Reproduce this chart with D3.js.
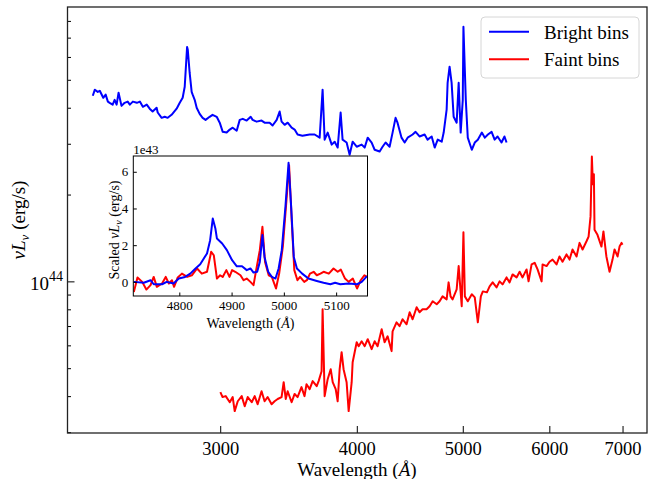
<!DOCTYPE html>
<html>
<head>
<meta charset="utf-8">
<script src="https://cdn.jsdelivr.net/npm/d3@7"></script>
<style>
  body { margin: 0; background: #fff; }
  svg { display: block; font-family: "Liberation Serif", "Times New Roman", serif; }
</style>
</head>
<body>
<svg id="chart" width="648" height="479"></svg>
<script>
// main panel: rest-frame wavelength (Angstrom) and nuL_nu in units of 1e44 erg/s
const brightWave = [2294,2304,2318,2328,2345,2357,2368,2377,2392,2402,
  2412,2422,2437,2453,2469,2480,2496,2517,2533,2549,
  2570,2586,2602,2624,2630,2652,2669,2686,2708,2737,
  2755,2772,2784,2798,2802,2813,2825,2831,2843,2855,
  2873,2891,2909,2934,2952,2978,2997,3016,3041,3061,
  3080,3106,3126,3146,3172,3199,3212,3239,3273,3294,
  3329,3350,3379,3400,3414,3436,3458,3487,3509,3531,
  3567,3622,3660,3699,3722,3738,3762,3794,3818,3842,
  3866,3882,3915,3940,3965,3999,4041,4067,4093,4127,
  4153,4197,4223,4250,4286,4313,4340,4358,4395,4424,
  4452,4499,4527,4565,4614,4643,4683,4713,4743,4783,
  4803,4833,4843,4863,4884,4905,4936,4957,4978,5000,
  5007,5032,5053,5096,5128,5161,5205,5238,5272,5313,
  5347,5380,5425,5459,5483];
const brightLum = [4.40,4.62,4.54,4.58,4.33,4.44,4.20,4.16,4.10,4.26,
  4.10,4.51,4.06,4.16,4.20,4.10,4.20,4.16,4.20,4.03,
  4.10,3.97,3.88,4.00,3.85,3.69,3.72,3.69,3.78,3.97,
  4.16,4.33,4.73,6.50,6.35,5.29,4.54,4.44,4.26,4.00,
  3.81,3.69,3.63,3.72,3.78,3.72,3.55,3.30,3.28,3.36,
  3.41,3.33,3.63,3.66,3.61,3.72,3.63,3.58,3.61,3.55,
  3.55,3.47,3.63,3.88,3.58,3.49,3.55,3.41,3.36,3.23,
  3.20,3.23,3.23,3.15,4.62,3.10,3.28,2.98,3.05,2.91,
  3.85,3.10,3.03,2.75,3.05,2.93,2.98,2.91,3.15,3.03,
  2.86,2.82,2.93,3.03,2.93,3.28,3.69,3.55,3.15,3.03,
  3.15,3.23,3.30,3.18,3.23,3.10,3.18,2.91,3.10,3.05,
  3.28,3.94,4.88,5.55,4.88,3.72,3.55,4.88,3.28,4.26,
  7.63,4.26,3.15,2.86,3.03,3.10,3.28,3.15,3.23,3.30,
  3.10,3.18,3.03,3.18,3.03];

const faintWave = [3001,3015,3035,3061,3080,3093,3113,3139,3159,3179,
  3206,3226,3246,3273,3294,3315,3343,3364,3386,3414,
  3429,3444,3458,3487,3509,3531,3560,3583,3598,3622,
  3645,3676,3691,3714,3722,3738,3762,3786,3802,3826,
  3842,3858,3874,3890,3915,3932,3957,3965,3982,3999,
  4016,4041,4067,4093,4127,4153,4179,4215,4241,4268,
  4304,4313,4349,4377,4405,4442,4471,4499,4537,4565,
  4594,4633,4663,4693,4733,4762,4792,4833,4853,4873,
  4894,4936,4957,4989,5007,5022,5053,5096,5128,5161,
  5194,5216,5261,5291,5325,5369,5403,5437,5483,5518,
  5553,5600,5636,5671,5719,5743,5780,5817,5853,5903,
  5915,5965,6003,6041,6092,6130,6169,6221,6261,6300,
  6354,6394,6435,6490,6517,6544,6562,6576,6590,6599,
  6640,6696,6724,6766,6811,6854,6883,6927,6956,6985,
  6999];
const faintLum = [0.413,0.397,0.400,0.381,0.397,0.355,0.384,0.400,0.369,0.397,
  0.381,0.400,0.375,0.416,0.384,0.397,0.375,0.384,0.391,0.397,
  0.447,0.391,0.416,0.381,0.407,0.397,0.430,0.400,0.440,0.423,
  0.451,0.433,0.451,0.488,0.800,0.400,0.458,0.496,0.447,0.423,
  0.384,0.496,0.568,0.496,0.447,0.355,0.447,0.524,0.568,0.615,
  0.596,0.620,0.596,0.630,0.582,0.620,0.596,0.682,0.615,0.645,
  0.573,0.671,0.721,0.699,0.739,0.710,0.781,0.739,0.813,0.781,
  0.800,0.800,0.820,0.853,0.833,0.853,0.887,0.866,0.992,0.887,
  0.866,0.938,1.13,0.820,1.48,0.887,0.853,0.902,0.880,0.721,
  0.887,0.923,0.916,0.961,0.992,0.953,1.000,0.976,1.032,0.992,
  1.057,1.032,1.08,1.032,1.10,1.00,1.145,1.16,1.10,1.00,
  1.145,1.13,1.17,1.19,1.145,1.22,1.17,1.24,1.19,1.29,
  1.22,1.36,1.29,1.38,1.43,1.68,2.71,2.17,2.35,1.51,
  1.45,1.32,1.49,1.22,1.08,1.19,1.29,1.22,1.32,1.36,
  1.34];

// inset: scaled nuL_nu in units of 1e43 erg/s around H-beta / [OIII]
const brightInsetWave = [4713,4732,4745,4751,4767,4776,4789,4799,4811,4821,
  4831,4840,4853,4859,4864,4869,4872,4882,4891,4901,
  4910,4920,4929,4936,4942,4949,4954,4959,4963,4970,
  4977,4984,4990,4996,5003,5009,5014,5019,5025,5035,
  5047,5063,5076,5089,5098,5108,5124,5140,5149,5159];
const brightInsetLum = [0,-0.05,0.09,-0.13,-0.13,0,-0.09,0.18,0.27,0.45,
  0.73,0.96,1.55,2.27,3.45,2.91,2.36,2.09,1.73,1.18,
  0.85,0.85,0.64,0.73,0.51,0.55,1.09,2.55,1.36,0.55,
  0.27,0.18,0.73,1.73,4.09,6.49,4.09,1.36,0.73,0.45,
  0.18,0.05,-0.05,-0.13,-0.05,-0.13,-0.09,-0.13,0,0.31];
const faintInsetWave = [4713,4720,4729,4737,4745,4751,4757,4767,4774,4780,
  4786,4790,4797,4805,4815,4824,4834,4843,4853,4861,
  4866,4872,4878,4883,4890,4896,4901,4907,4917,4923,
  4929,4936,4942,4947,4954,4959,4964,4971,4977,4985,
  4991,4998,5005,5010,5015,5020,5026,5031,5039,5044,
  5050,5057,5063,5070,5076,5086,5095,5103,5109,5117,
  5124,5132,5140,5147,5154,5159];
const faintInsetLum = [-0.55,0.24,0,-0.42,-0.18,0.27,-0.27,-0.09,0.27,-0.09,
  0.09,-0.27,0.24,0.45,0.27,0.36,0.73,0.45,0.55,1.64,
  1.45,0.18,0.36,0.27,0.64,0.27,0.64,0.55,0.36,0.09,
  0.18,0,-0.18,0.64,1.73,3.0,1.09,0.36,0.27,-0.36,
  0.45,1.91,4.45,6.36,3.36,0.64,0.09,0.27,0,0.09,
  0.45,0.55,0.36,0.45,0.55,0.45,0.73,0.55,0.67,0.18,
  0,0.18,-0.36,0.09,0.36,0.27];

const xTicks = [3000, 4000, 5000, 6000, 7000];
const yMinorTicks = [3e43,4e43,5e43,6e43,7e43,8e43,9e43,2e44,3e44,4e44,5e44,6e44,7e44,8e44];
const insetXTicks = [4800, 4900, 5000, 5100];
const insetYTicks = [0, 2, 4, 6];
const seriesNames = ["Bright bins", "Faint bins"];
const colors = ["#0000ff", "#ff0000"];

const svg = d3.select("#chart");
svg.append("rect").attr("width", 648).attr("height", 479).attr("fill", "#fff");

// main axes box
const L = 67.5, R = 647, T = 7, B = 433;
const x = d3.scaleLog().domain([2175, 7370]).range([L, R]);
const y = d3.scaleLog().domain([2.98e43, 8.94e44]).range([B, T]);

const mainLine = d3.line()
  .x(function(d) { return x(d[0]); })
  .y(function(d) { return y(d[1] * 1e44); });

svg.append("path")
  .datum(d3.zip(brightWave, brightLum))
  .attr("d", mainLine)
  .attr("fill", "none").attr("stroke", colors[0])
  .attr("stroke-width", 2).attr("stroke-linejoin", "round");
svg.append("path")
  .datum(d3.zip(faintWave, faintLum))
  .attr("d", mainLine)
  .attr("fill", "none").attr("stroke", colors[1])
  .attr("stroke-width", 2).attr("stroke-linejoin", "round");

const gx = svg.append("g")
  .attr("transform", "translate(0," + B + ")")
  .call(d3.axisBottom(x).tickValues(xTicks).tickFormat(d3.format("d"))
    .tickSize(-7).tickPadding(8.5));
gx.select(".domain").remove();
gx.selectAll("text").attr("font-size", 18.5).attr("font-family", "Liberation Serif").attr("fill", "#000");
gx.selectAll("line").attr("stroke", "#000");

const gyMinor = svg.append("g")
  .attr("transform", "translate(" + L + ",0)")
  .call(d3.axisLeft(y).tickValues(yMinorTicks).tickFormat("").tickSize(-3.5));
gyMinor.select(".domain").remove();
const gyMajor = svg.append("g")
  .attr("transform", "translate(" + L + ",0)")
  .call(d3.axisLeft(y).tickValues([1e44]).tickFormat("").tickSize(-7));
gyMajor.select(".domain").remove();
svg.selectAll(".tick line").attr("stroke", "#000");

const majorLabel = svg.append("text")
  .attr("x", 63).attr("y", y(1e44) + 9)
  .attr("text-anchor", "end").attr("font-size", 19);
majorLabel.append("tspan").text("10");
majorLabel.append("tspan").attr("dy", -9).attr("font-size", 14).text("44");

svg.append("rect")
  .attr("x", L).attr("y", T).attr("width", R - L).attr("height", B - T)
  .attr("fill", "none").attr("stroke", "#222").attr("stroke-width", 1.3);

// axis labels
const xl = svg.append("text").attr("x", 357).attr("y", 476)
  .attr("text-anchor", "middle").attr("font-size", 19);
xl.append("tspan").text("Wavelength (");
xl.append("tspan").attr("font-style", "italic").text("Å");
xl.append("tspan").text(")");

const yl = svg.append("text")
  .attr("transform", "translate(25,220) rotate(-90)")
  .attr("text-anchor", "middle").attr("font-size", 19);
yl.append("tspan").attr("font-style", "italic").text("νL");
yl.append("tspan").attr("font-style", "italic").attr("font-size", 13).attr("dy", 4).text("ν");
yl.append("tspan").attr("dy", -4).text(" (erg/s)");

// legend
const lg = svg.append("g");
lg.append("rect").attr("x", 481).attr("y", 17).attr("width", 158).attr("height", 61)
  .attr("rx", 4).attr("fill", "#fff").attr("fill-opacity", 0.8)
  .attr("stroke", "#d6d6d6");
seriesNames.forEach(function(name, i) {
  const yy = 31.7 + i * 27.5;
  lg.append("line").attr("x1", 489).attr("x2", 529).attr("y1", yy).attr("y2", yy)
    .attr("stroke", colors[i]).attr("stroke-width", 2);
  lg.append("text").attr("x", 544).attr("y", yy + 7).attr("font-size", 19).text(name);
});

// inset
const iL = 133.3, iR = 367.5, iT = 156, iB = 296;
const xi = d3.scaleLinear().domain([4712, 5160]).range([iL, iR]);
const yi = d3.scaleLinear().domain([-0.77, 6.86]).range([iB, iT]);
svg.append("rect").attr("x", iL).attr("y", iT).attr("width", iR - iL).attr("height", iB - iT)
  .attr("fill", "#fff");

const insetLine = d3.line()
  .x(function(d) { return xi(d[0]); })
  .y(function(d) { return yi(d[1]); });
const clip = svg.append("clipPath").attr("id", "insetClip");
clip.append("rect").attr("x", iL).attr("y", iT).attr("width", iR - iL).attr("height", iB - iT);
const ig = svg.append("g").attr("clip-path", "url(#insetClip)");
ig.append("path").datum(d3.zip(faintInsetWave, faintInsetLum))
  .attr("d", insetLine).attr("fill", "none").attr("stroke", colors[1])
  .attr("stroke-width", 2).attr("stroke-linejoin", "round");
ig.append("path").datum(d3.zip(brightInsetWave, brightInsetLum))
  .attr("d", insetLine).attr("fill", "none").attr("stroke", colors[0])
  .attr("stroke-width", 2).attr("stroke-linejoin", "round");

const gix = svg.append("g").attr("transform", "translate(0," + iB + ")")
  .call(d3.axisBottom(xi).tickValues(insetXTicks).tickFormat(d3.format("d"))
    .tickSize(-3.5).tickPadding(5));
const giy = svg.append("g").attr("transform", "translate(" + iL + ",0)")
  .call(d3.axisLeft(yi).tickValues(insetYTicks).tickFormat(d3.format("d"))
    .tickSize(-3.5).tickPadding(5));
[gix, giy].forEach(function(g) {
  g.select(".domain").remove();
  g.selectAll("text").attr("font-size", 13).attr("font-family", "Liberation Serif").attr("fill", "#000");
  g.selectAll("line").attr("stroke", "#000");
});
svg.append("rect").attr("x", iL).attr("y", iT).attr("width", iR - iL).attr("height", iB - iT)
  .attr("fill", "none").attr("stroke", "#000").attr("stroke-width", 1);

svg.append("text").attr("x", iL).attr("y", iT - 2).attr("font-size", 13).text("1e43");

const ixl = svg.append("text").attr("x", (iL + iR) / 2).attr("y", 328)
  .attr("text-anchor", "middle").attr("font-size", 14);
ixl.append("tspan").text("Wavelength (");
ixl.append("tspan").attr("font-style", "italic").text("Å");
ixl.append("tspan").text(")");

const iyl = svg.append("text")
  .attr("transform", "translate(119," + ((iT + iB) / 2 + 4) + ") rotate(-90)")
  .attr("text-anchor", "middle").attr("font-size", 14);
iyl.append("tspan").text("Scaled ");
iyl.append("tspan").attr("font-style", "italic").text("νL");
iyl.append("tspan").attr("font-style", "italic").attr("font-size", 10).attr("dy", 3).text("ν");
iyl.append("tspan").attr("dy", -3).text(" (erg/s)");
</script>
</body>
</html>
